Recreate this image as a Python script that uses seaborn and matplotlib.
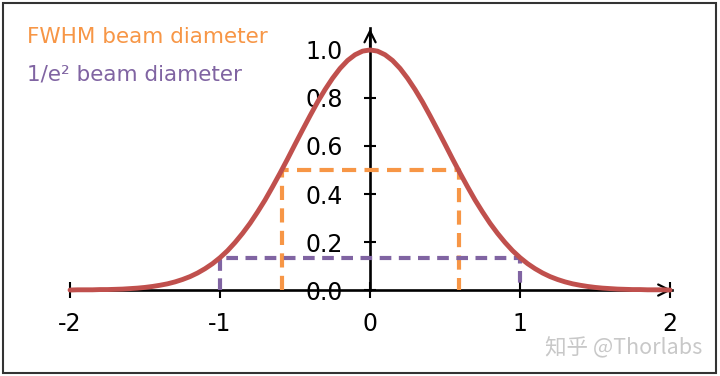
import pandas as pd
import seaborn as sns
import matplotlib.pyplot as plt
from matplotlib.patches import Rectangle

# Gaussian beam profile (step 0.05)
x_pos = [-2.00, -1.95, -1.90, -1.85, -1.80, -1.75, -1.70, -1.65, -1.60, -1.55,
         -1.50, -1.45, -1.40, -1.35, -1.30, -1.25, -1.20, -1.15, -1.10, -1.05,
         -1.00, -0.95, -0.90, -0.85, -0.80, -0.75, -0.70, -0.65, -0.60, -0.55,
         -0.50, -0.45, -0.40, -0.35, -0.30, -0.25, -0.20, -0.15, -0.10, -0.05,
         0.00, 0.05, 0.10, 0.15, 0.20, 0.25, 0.30, 0.35, 0.40, 0.45,
         0.50, 0.55, 0.60, 0.65, 0.70, 0.75, 0.80, 0.85, 0.90, 0.95,
         1.00, 1.05, 1.10, 1.15, 1.20, 1.25, 1.30, 1.35, 1.40, 1.45,
         1.50, 1.55, 1.60, 1.65, 1.70, 1.75, 1.80, 1.85, 1.90, 1.95, 2.00]
intensity = [0.000, 0.001, 0.001, 0.001, 0.002, 0.002, 0.003, 0.004, 0.006, 0.008,
             0.011, 0.015, 0.020, 0.026, 0.034, 0.044, 0.056, 0.071, 0.089, 0.110,
             0.135, 0.164, 0.198, 0.236, 0.278, 0.325, 0.375, 0.430, 0.487, 0.546,
             0.607, 0.667, 0.726, 0.783, 0.835, 0.882, 0.923, 0.956, 0.980, 0.995,
             1.000, 0.995, 0.980, 0.956, 0.923, 0.882, 0.835, 0.783, 0.726, 0.667,
             0.607, 0.546, 0.487, 0.430, 0.375, 0.325, 0.278, 0.236, 0.198, 0.164,
             0.135, 0.110, 0.089, 0.071, 0.056, 0.044, 0.034, 0.026, 0.020, 0.015,
             0.011, 0.008, 0.006, 0.004, 0.003, 0.002, 0.002, 0.001, 0.001, 0.001, 0.000]

# FWHM and 1/e^2 markers
fwhm_x = [-0.59, -0.59, 0.59, 0.59]
fwhm_y = [0.0, 0.5, 0.5, 0.0]
e2_x = [-1.0, -1.0, 1.0, 1.0]
e2_y = [0.0, 0.135, 0.135, 0.0]

x_ticks = [-2, -1, 0, 1, 2]
y_ticks = [0.0, 0.2, 0.4, 0.6, 0.8, 1.0]

df = pd.DataFrame({'x': x_pos, 'I': intensity})

sns.set_style('white')
plt.rcParams['font.family'] = ['DejaVu Sans']

fig = plt.figure(figsize=(7.2, 3.76), dpi=100)
ax = fig.add_axes([0, 0, 1, 1])

red = '#C0504D'
orange = '#F79646'
purple = '#8064A2'

ax.plot(fwhm_x, fwhm_y, color=orange, lw=3.0, dashes=(3.4, 2.0), zorder=1.5)
ax.plot(e2_x, e2_y, color=purple, lw=3.0, dashes=(2.8, 1.8), zorder=1.5)
sns.lineplot(data=df, x='x', y='I', color=red, lw=3.5, ax=ax, zorder=2)

ax.set_xlim(-2.467, 2.333)
ax.set_ylim(-0.358, 1.208)

# axes through the origin
for s in ['top', 'right']:
    ax.spines[s].set_visible(False)
ax.spines['left'].set_position(('data', 0))
ax.spines['bottom'].set_position(('data', 0))
ax.spines['left'].set_bounds(0, 1.09)
ax.spines['bottom'].set_bounds(-2, 2.01)
for s in ['left', 'bottom']:
    ax.spines[s].set_linewidth(1.9)
    ax.spines[s].set_color('black')
    ax.spines[s].set_zorder(1)

ax.annotate('', xy=(2.03, 0), xytext=(1.9, 0),
            arrowprops=dict(arrowstyle='->', color='black', lw=1.6, mutation_scale=20), zorder=1)
ax.annotate('', xy=(0, 1.1), xytext=(0, 1.0),
            arrowprops=dict(arrowstyle='->', color='black', lw=1.6, mutation_scale=20), zorder=1)

ax.set_xticks(x_ticks)
ax.set_xticklabels([str(t) for t in x_ticks])
ax.set_yticks(y_ticks)
ax.set_yticklabels([f'{t:.1f}' for t in y_ticks])
ax.tick_params(axis='x', bottom=True, direction='inout', length=12, width=1.5, pad=10,
               labelsize=17, colors='black')
ax.tick_params(axis='y', left=True, direction='inout', length=9, width=1.5, pad=15,
               labelsize=17, colors='black')
ax.set_xlabel('')
ax.set_ylabel('')

fig.text(27 / 720, 1 - 37 / 376, 'FWHM beam diameter', color=orange, fontsize=15.5, va='center', ha='left')
fig.text(27 / 720, 1 - 75 / 376, '1/e² beam diameter', color=purple, fontsize=15.5, va='center', ha='left')
fig.text(545 / 720, 1 - 348 / 376, '知乎 @Thorlabs', color='#c8c8c8', fontsize=15.5, va='center', ha='left',
         family=['Noto Sans CJK SC', 'DejaVu Sans'])

fig.patches.append(Rectangle((3 / 720, 3 / 376), 713 / 720, 370 / 376, transform=fig.transFigure,
                             fill=False, edgecolor='#333333', lw=1.5))

fig.savefig('out.png', dpi=100)
